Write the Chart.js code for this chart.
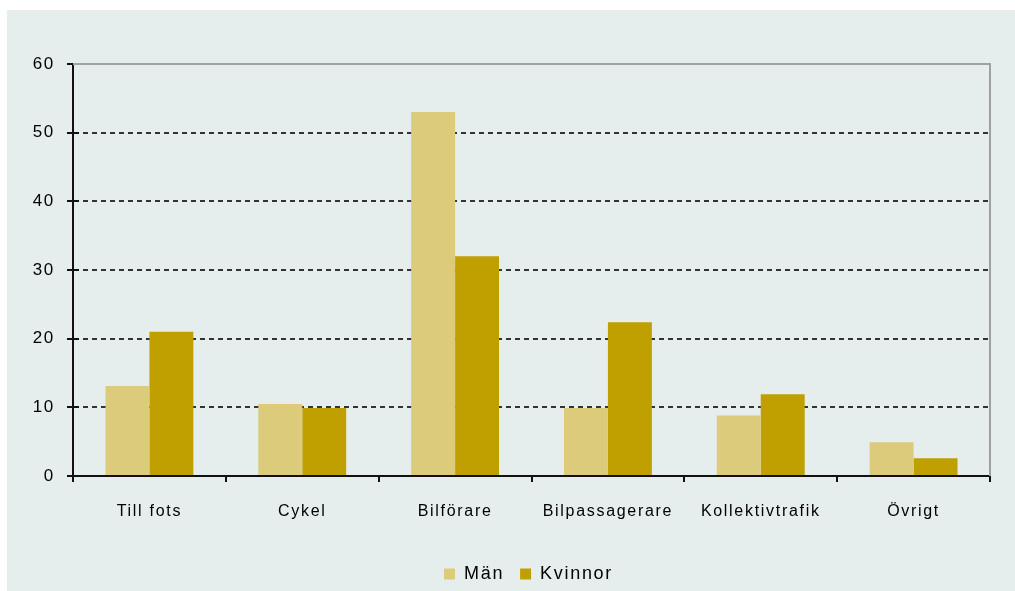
<!DOCTYPE html>
<html>
<head>
<meta charset="utf-8">
<script src="https://cdn.jsdelivr.net/npm/chart.js@4.4.1/dist/chart.umd.min.js"></script>
<style>
  html, body { margin: 0; padding: 0; background: #ffffff; }
  #wrap { position: absolute; left: 7px; top: 10px; width: 1008px; height: 581px; background: #e5eeed; }
</style>
</head>
<body>
<div id="wrap"><canvas id="chart"></canvas></div>
<script>
// travel mode shares, percent
const categories = ['Till fots', 'Cykel', 'Bilförare', 'Bilpassagerare', 'Kollektivtrafik', 'Övrigt'];
const menValues = [13.1, 10.5, 53, 9.9, 8.8, 4.9];
const womenValues = [21, 9.9, 32, 22.4, 11.9, 2.6];
const yTicks = [0, 10, 20, 30, 40, 50, 60];

const FONT = 'Liberation Sans, Arial, sans-serif';

// the original text is spaced out a bit
const spacing = {
  id: 'spacing',
  beforeLayout(chart) { chart.ctx.letterSpacing = '1.7px'; },
  beforeDraw(chart) { chart.ctx.letterSpacing = '1.7px'; }
};

// legend sits a little right of centre in the original
const legendShift = {
  id: 'legendShift',
  afterLayout(chart) {
    chart.legend.left += 30;
    chart.legend.right += 30;
  }
};

// top/right frame and the inner half of the y tick marks
const frame = {
  id: 'frame',
  afterDraw(chart) {
    const { ctx, chartArea: a, scales } = chart;
    ctx.save();
    ctx.strokeStyle = '#a0a0a0';
    ctx.lineWidth = 2;
    ctx.beginPath();
    ctx.moveTo(a.left, a.top);
    ctx.lineTo(a.right, a.top);
    ctx.lineTo(a.right, a.bottom);
    ctx.stroke();
    ctx.strokeStyle = '#111';
    yTicks.forEach(v => {
      if (v === 0 || v === 60) return;
      const y = Math.round(scales.y.getPixelForValue(v));
      ctx.beginPath();
      ctx.moveTo(a.left, y);
      ctx.lineTo(a.left + 6, y);
      ctx.stroke();
    });
    ctx.restore();
  }
};

new Chart(document.getElementById('chart'), {
  type: 'bar',
  data: {
    labels: categories,
    datasets: [
      { label: 'Män', data: menValues, backgroundColor: '#dccb7a' },
      { label: 'Kvinnor', data: womenValues, backgroundColor: '#c09f00' }
    ]
  },
  options: {
    responsive: true,
    maintainAspectRatio: false,
    animation: false,
    categoryPercentage: 0.575,
    barPercentage: 1,
    layout: { padding: { top: 54, right: 25, left: 0, bottom: -2 } },
    plugins: {
      tooltip: { enabled: false },
      legend: {
        position: 'bottom',
        labels: {
          color: '#000',
          font: { family: FONT, size: 18 },
          boxWidth: 11,
          boxHeight: 11,
          padding: 16
        }
      }
    },
    scales: {
      x: {
        afterFit: s => { s.height = 73; },
        grid: { offset: true, drawOnChartArea: false, color: '#111', tickLength: 6, lineWidth: 2 },
        border: { color: '#111', width: 2 },
        ticks: { color: '#000', font: { family: FONT, size: 16 }, padding: 20 }
      },
      y: {
        min: 0,
        max: 60,
        afterFit: s => { s.width = 66; },
        afterBuildTicks: s => { s.ticks = yTicks.map(v => ({ value: v })); },
        grid: {
          color: ctx => (ctx.tick && (ctx.tick.value === 0 || ctx.tick.value === 60)) ? 'rgba(0,0,0,0)' : '#333',
          tickColor: '#111',
          tickLength: 6,
          lineWidth: 2
        },
        border: { color: '#111', width: 2, dash: [5, 4] },
        ticks: { color: '#000', font: { family: FONT, size: 17 }, padding: 12 }
      }
    }
  },
  plugins: [spacing, legendShift, frame]
});
</script>
</body>
</html>
